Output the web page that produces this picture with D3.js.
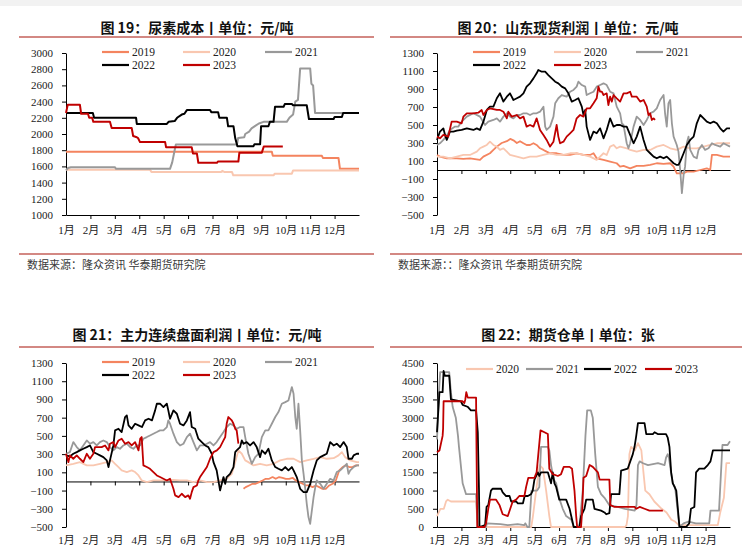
<!DOCTYPE html>
<html><head><meta charset="utf-8">
<script src="https://cdn.jsdelivr.net/npm/d3@7"></script>
<style>
html,body{margin:0;padding:0;background:#fff;}
svg{display:block;}
</style></head>
<body>
<svg id="c" width="742" height="549"></svg>
<script>
// ---------- DATA ----------
const months = ["1月","2月","3月","4月","5月","6月","7月","8月","9月","10月","11月","12月"];
const monthTicks = [0,1,2,3,4,5,6,7,8,9,10,11];
const years5 = ["2019","2020","2021","2022","2023"];
const years4 = ["2020","2021","2022","2023"];
const ticksCost = [1000,1200,1400,1600,1800,2000,2200,2400,2600,2800,3000];
const ticksProfit = [-500,-300,-100,100,300,500,700,900,1100,1300];
const ticksWarrant = [0,500,1000,1500,2000,2500,3000,3500,4000,4500];

// Fig 19 urea cost  [month, value]
const cost2019 = [[0,1780],[8.43,1780],[8.47,1730],[10.48,1730],[10.52,1705],[11.16,1705],[11.22,1570],[12,1570]];
const cost2020 = [[0,1560],[3.44,1560],[3.5,1530],[6.35,1530],[6.4,1545],[6.5,1530],[6.8,1530],[6.85,1490],[8.5,1490],[8.55,1510],[9.25,1510],[9.3,1550],[12,1550]];
const cost2021 = [[0,1550],[0.08,1580],[0.2,1590],[2.0,1590],[2.05,1570],[4.26,1570],[4.35,1650],[4.45,1800],[4.5,1870],[7.0,1870],[7.05,1950],[7.3,1960],[7.34,2000],[7.5,2030],[7.6,2070],[7.75,2100],[7.9,2130],[8.09,2150],[9.04,2150],[9.15,2200],[9.3,2240],[9.39,2400],[9.5,2420],[9.59,2810],[10.0,2810],[10.05,2620],[10.12,2600],[10.2,2260],[11.9,2260]];
const cost2022 = [[0,2260],[1.1,2260],[1.15,2200],[2.87,2200],[2.9,2125],[4.13,2125],[4.2,2150],[4.45,2160],[4.55,2200],[4.74,2240],[4.85,2250],[4.95,2295],[5.9,2295],[5.95,2270],[6.23,2270],[6.28,2200],[6.59,2200],[6.64,2095],[6.86,2095],[6.93,1950],[7.02,1850],[7.68,1850],[7.72,1875],[7.95,1875],[7.99,2095],[8.29,2095],[8.35,2150],[8.5,2150],[8.56,2335],[8.91,2335],[8.96,2370],[9.25,2370],[9.3,2355],[9.86,2355],[9.95,2185],[10.96,2185],[11.0,2210],[11.3,2210],[11.35,2260],[12,2260]];
const cost2023 = [[0,2260],[0.07,2360],[0.57,2360],[0.62,2250],[0.9,2250],[0.95,2200],[1.07,2200],[1.12,2150],[1.8,2150],[1.87,2075],[2.69,2075],[2.75,1975],[2.9,1960],[2.95,1950],[3.03,1900],[4.06,1900],[4.1,1835],[5.15,1835],[5.2,1760],[5.36,1760],[5.42,1645],[6.18,1645],[6.22,1660],[7.06,1660],[7.1,1770],[8.02,1770],[8.1,1845],[8.88,1845]];

// Fig 20 Shandong spot profit
const spot2019 = [[0,167],[0.12,149],[0.40,130],[0.81,130],[1.08,123],[1.35,130],[1.76,112],[1.90,149],[2.17,186],[2.31,223],[2.45,260],[2.65,300],[2.86,320],[3.0,345],[3.13,330],[3.27,300],[3.40,320],[3.54,297],[3.67,278],[3.81,278],[3.95,297],[4.08,278],[4.22,241],[4.36,223],[4.49,204],[4.63,186],[4.90,186],[5.18,167],[5.45,167],[5.72,186],[6.00,167],[6.27,167],[6.41,186],[6.54,130],[6.82,112],[7.09,93],[7.36,75],[7.50,37],[7.64,45],[7.91,19],[8.18,45],[8.46,45],[8.73,56],[9.00,75],[9.28,67],[9.55,75],[9.69,37],[9.82,-37],[10.10,-37],[10.23,-18],[10.51,-18],[10.78,0],[11.05,19],[11.19,0],[11.26,167],[11.46,167],[11.73,149],[12.0,149]];
const spot2020 = [[0,149],[0.26,149],[0.53,130],[0.81,149],[1.08,167],[1.35,167],[1.63,204],[1.76,241],[1.90,260],[2.04,278],[2.17,315],[2.31,278],[2.45,260],[2.58,223],[2.72,241],[2.86,204],[2.99,167],[3.27,149],[3.54,130],[3.81,149],[4.08,149],[4.36,167],[4.63,186],[4.90,167],[5.18,167],[5.45,186],[5.72,186],[6.00,167],[6.27,149],[6.54,112],[6.68,149],[6.82,186],[6.95,167],[7.09,260],[7.23,278],[7.36,241],[7.50,260],[7.77,241],[7.91,223],[8.18,204],[8.46,223],[8.73,223],[9.00,260],[9.28,278],[9.55,241],[9.82,223],[10.10,260],[10.37,241],[10.64,241],[10.92,260],[11.19,278],[11.46,297],[11.73,297],[12.0,297]];
const spot2021 = [[0,278],[0.12,297],[0.26,334],[0.46,408],[0.53,445],[0.74,482],[0.87,482],[1.01,537],[1.22,593],[1.49,630],[1.76,593],[1.97,500],[2.10,537],[2.31,556],[2.45,574],[2.58,537],[2.72,593],[2.86,630],[2.99,593],[3.13,574],[3.27,611],[3.40,611],[3.54,630],[3.67,630],[3.81,611],[3.95,630],[4.08,630],[4.22,648],[4.36,704],[4.43,482],[4.49,445],[4.63,482],[4.77,593],[4.84,741],[4.97,797],[5.11,833],[5.31,815],[5.45,870],[5.59,889],[5.72,926],[5.79,981],[5.93,944],[6.07,926],[6.13,833],[6.27,852],[6.41,870],[6.54,926],[6.68,944],[6.82,963],[6.95,944],[7.09,870],[7.23,852],[7.36,704],[7.50,630],[7.57,519],[7.64,500],[7.77,297],[7.84,241],[7.91,297],[8.05,482],[8.18,593],[8.32,556],[8.46,500],[8.59,556],[8.73,630],[8.87,648],[9.00,685],[9.14,778],[9.28,833],[9.34,630],[9.41,482],[9.48,741],[9.55,778],[9.62,519],[9.69,371],[9.82,278],[9.89,204],[9.96,0],[10.03,-258],[10.10,-55],[10.16,37],[10.23,297],[10.30,371],[10.37,223],[10.51,149],[10.64,130],[10.71,223],[10.85,278],[10.98,223],[11.12,241],[11.26,297],[11.39,278],[11.60,260],[11.73,297],[11.87,278],[12.0,260]];
const spot2022 = [[0,334],[0.12,427],[0.26,463],[0.33,390],[0.40,334],[0.53,427],[0.67,427],[0.81,438],[1.01,445],[1.22,463],[1.49,445],[1.63,463],[1.76,445],[1.90,537],[2.04,667],[2.17,704],[2.31,704],[2.45,797],[2.58,852],[2.72,760],[2.86,815],[2.99,852],[3.13,778],[3.27,797],[3.40,815],[3.54,852],[3.67,926],[3.81,963],[3.95,1018],[4.08,1074],[4.15,1111],[4.29,1092],[4.43,1092],[4.56,1055],[4.70,1018],[4.84,981],[4.97,963],[5.11,926],[5.25,907],[5.38,852],[5.52,760],[5.66,778],[5.79,797],[5.93,704],[6.00,611],[6.07,667],[6.13,482],[6.27,334],[6.41,427],[6.54,408],[6.68,463],[6.82,352],[6.95,445],[7.09,574],[7.23,482],[7.36,500],[7.50,500],[7.64,482],[7.77,482],[7.91,390],[8.05,297],[8.18,371],[8.32,482],[8.46,334],[8.59,223],[8.73,186],[8.87,149],[9.00,130],[9.14,149],[9.28,130],[9.41,149],[9.55,112],[9.69,75],[9.82,56],[9.89,56],[9.96,93],[10.10,186],[10.23,278],[10.37,334],[10.51,371],[10.64,519],[10.78,611],[10.92,574],[11.05,537],[11.19,519],[11.33,537],[11.46,519],[11.60,463],[11.73,427],[11.87,463],[12.0,463]];
const spot2023 = [[0,371],[0.12,352],[0.26,390],[0.46,371],[0.60,537],[0.81,537],[1.01,519],[1.08,593],[1.22,630],[1.49,630],[1.69,637],[1.83,667],[1.90,611],[2.04,667],[2.17,685],[2.45,667],[2.58,667],[2.72,648],[2.86,574],[2.92,648],[3.06,593],[3.27,611],[3.40,574],[3.54,593],[3.67,482],[3.81,500],[3.95,482],[4.08,574],[4.22,445],[4.36,390],[4.49,334],[4.63,260],[4.77,315],[4.90,500],[4.97,371],[5.04,297],[5.18,315],[5.31,371],[5.45,408],[5.59,445],[5.72,574],[5.86,611],[6.00,593],[6.13,685],[6.27,685],[6.41,741],[6.54,797],[6.61,926],[6.68,870],[6.75,870],[6.82,833],[6.95,852],[7.02,722],[7.09,815],[7.16,760],[7.23,833],[7.36,797],[7.50,760],[7.64,852],[7.77,852],[7.91,870],[7.98,815],[8.18,815],[8.32,760],[8.46,778],[8.59,704],[8.66,611],[8.73,630],[8.80,556],[8.87,574],[8.93,556]];

// Fig 21 main continuous futures profit
const fut2019 = [[7.27,-81],[7.36,-62],[7.50,-44],[7.64,-26],[7.77,-26],[7.91,-7],[8.05,11],[8.18,29],[8.32,29],[8.46,48],[8.59,29],[8.73,48],[8.87,40],[9.00,29],[9.14,29],[9.28,40],[9.41,11],[9.55,-7],[9.69,-26],[9.82,-44],[9.96,-44],[10.10,-62],[10.23,-44],[10.37,-62],[10.51,-81],[10.64,-81],[10.78,-44],[10.92,-26],[11.05,11],[11.19,121],[11.33,158],[11.46,176],[11.60,158],[11.73,158],[11.87,176],[12.0,176]];
const fut2020 = [[0,176],[0.30,194],[0.57,212],[0.85,176],[1.12,176],[1.39,194],[1.67,212],[1.87,231],[2.01,194],[2.15,158],[2.28,121],[2.49,103],[2.69,121],[2.83,103],[2.97,66],[3.10,11],[3.31,-7],[3.58,11],[3.85,11],[4.13,11],[4.40,18],[4.67,11],[4.95,11],[5.22,-7],[5.49,11],[5.77,-7],[6.04,-7],[6.31,11],[6.58,29],[6.79,84],[6.93,212],[7.06,341],[7.20,304],[7.34,231],[7.47,212],[7.68,176],[7.95,194],[8.22,176],[8.50,194],[8.77,231],[9.04,249],[9.32,249],[9.59,212],[9.86,231],[10.14,249],[10.41,267],[10.68,249],[10.96,255],[11.16,286],[11.30,322],[11.43,267],[11.64,231],[11.91,212],[12.0,212]];
const fut2021 = [[0,304],[0.16,322],[0.30,432],[0.44,377],[0.57,341],[0.71,395],[0.85,450],[0.98,414],[1.12,432],[1.26,395],[1.39,432],[1.53,450],[1.67,432],[1.80,377],[1.94,341],[2.08,377],[2.21,359],[2.35,395],[2.49,414],[2.63,377],[2.76,359],[2.90,395],[3.04,395],[3.17,469],[3.31,487],[3.44,505],[3.58,524],[3.72,542],[3.85,560],[3.99,560],[4.13,597],[4.19,670],[4.26,633],[4.40,524],[4.54,432],[4.67,395],[4.81,414],[4.95,487],[5.08,524],[5.22,432],[5.36,341],[5.49,395],[5.63,395],[5.77,414],[5.90,432],[6.04,395],[6.17,432],[6.31,487],[6.45,542],[6.58,597],[6.72,633],[6.86,615],[6.99,578],[7.13,597],[7.27,597],[7.34,487],[7.47,304],[7.61,194],[7.75,267],[7.88,304],[8.02,487],[8.16,560],[8.29,560],[8.43,633],[8.57,707],[8.70,761],[8.84,853],[8.98,871],[9.11,889],[9.18,963],[9.25,1036],[9.32,963],[9.39,707],[9.45,578],[9.52,853],[9.59,560],[9.66,231],[9.73,84],[9.79,-62],[9.86,-245],[9.93,-391],[10.0,-465],[10.07,-318],[10.14,-172],[10.21,-62],[10.27,11],[10.41,-26],[10.55,-81],[10.68,-26],[10.82,29],[10.96,11],[11.09,103],[11.23,121],[11.37,158],[11.50,194],[11.57,84],[11.64,121],[11.78,158],[11.91,176],[12.0,176]];
const fut2022 = [[0,286],[0.16,275],[0.30,304],[0.44,322],[0.57,341],[0.71,359],[0.85,377],[0.98,395],[1.12,322],[1.26,304],[1.39,286],[1.53,267],[1.67,231],[1.74,158],[1.80,231],[1.94,395],[2.01,560],[2.15,578],[2.28,541],[2.42,707],[2.49,725],[2.56,615],[2.69,578],[2.83,633],[2.97,615],[3.11,597],[3.24,670],[3.38,688],[3.52,670],[3.65,780],[3.72,853],[3.85,853],[3.99,816],[4.13,853],[4.19,780],[4.26,688],[4.40,780],[4.54,743],[4.67,633],[4.81,615],[4.95,670],[5.08,761],[5.15,597],[5.29,578],[5.42,469],[5.56,432],[5.70,395],[5.83,377],[5.97,304],[6.04,212],[6.17,121],[6.24,11],[6.31,-99],[6.45,48],[6.52,-26],[6.58,48],[6.72,84],[6.86,158],[6.93,322],[6.99,341],[7.13,377],[7.20,450],[7.27,414],[7.40,432],[7.54,395],[7.68,432],[7.81,377],[7.95,267],[8.02,341],[8.16,304],[8.29,359],[8.43,231],[8.57,158],[8.70,139],[8.84,121],[8.98,158],[9.11,121],[9.25,158],[9.32,121],[9.45,48],[9.59,-81],[9.73,-117],[9.86,-117],[10.0,-26],[10.14,121],[10.27,231],[10.41,267],[10.55,286],[10.68,304],[10.82,432],[10.96,395],[11.09,414],[11.23,377],[11.37,432],[11.50,377],[11.57,249],[11.71,249],[11.78,286],[11.91,304],[12.0,304]];
const fut2023 = [[0,304],[0.10,212],[0.16,286],[0.30,249],[0.44,286],[0.57,249],[0.71,212],[0.85,304],[0.98,249],[1.12,304],[1.19,377],[1.33,377],[1.46,377],[1.60,395],[1.74,341],[1.80,414],[1.94,432],[2.01,377],[2.15,450],[2.28,469],[2.42,414],[2.56,432],[2.69,395],[2.83,432],[2.97,341],[3.04,469],[3.10,487],[3.17,176],[3.31,158],[3.44,139],[3.58,103],[3.72,66],[3.85,48],[3.99,29],[4.13,11],[4.26,29],[4.40,-81],[4.47,-153],[4.61,-172],[4.74,-135],[4.88,-172],[5.01,-153],[5.08,-190],[5.15,-117],[5.22,-62],[5.36,-44],[5.42,11],[5.49,48],[5.63,103],[5.77,158],[5.90,249],[6.04,322],[6.18,341],[6.31,377],[6.45,450],[6.52,487],[6.58,633],[6.65,707],[6.79,670],[6.86,633],[6.93,578],[6.99,560],[7.06,414]];

// Fig 22 futures warehouse receipts
const wr2020 = [[0,300],[0.14,500],[0.28,500],[0.37,700],[0.44,750],[0.57,700],[1.6,700],[1.67,0],[3.86,0],[3.93,300],[4.06,1000],[4.2,1700],[4.34,1600],[4.47,1000],[4.6,300],[4.67,0],[7.7,0],[7.76,50],[7.82,300],[7.88,2000],[7.95,2200],[8.1,2100],[8.23,2300],[8.37,2100],[8.44,1600],[8.53,1000],[8.7,900],[8.9,700],[9.2,500],[9.4,400],[9.6,200],[9.75,150],[9.9,50],[11.5,50],[11.6,400],[11.75,800],[11.85,1750],[12,1750]];
const wr2021 = [[0,2400],[0.08,3700],[0.13,4250],[0.5,4250],[0.57,3700],[0.64,3300],[0.77,3000],[0.86,2500],[0.9,2200],[1.05,1200],[1.19,900],[1.6,900],[1.67,0],[2.0,0],[2.05,100],[2.6,80],[2.9,50],[3.3,80],[3.57,50],[3.62,100],[3.7,0],[3.78,0],[3.87,1000],[4.1,1000],[4.19,1100],[4.26,2200],[4.54,2200],[4.6,2100],[4.67,1700],[4.78,1300],[4.88,1200],[5.0,800],[5.15,500],[5.29,300],[5.5,200],[5.6,0],[5.83,0],[5.9,500],[5.97,1000],[6.08,2500],[6.15,3200],[6.3,3200],[6.38,3000],[6.48,2000],[6.59,1100],[6.72,900],[6.86,800],[7.06,600],[7.4,550],[7.7,500],[8.1,450],[8.17,600],[8.23,1700],[8.3,1800],[8.44,1750],[8.64,1700],[9.05,1750],[9.32,1700],[9.38,1900],[9.45,2000],[9.5,1900],[9.65,1200],[9.75,1100],[9.93,0],[10.1,100],[10.3,150],[10.6,100],[11.15,100],[11.2,450],[11.55,450],[11.69,2250],[11.9,2250],[12,2350]];
const wr2022 = [[0,2600],[0.1,3700],[0.23,3700],[0.27,4280],[0.32,4150],[0.50,4150],[0.57,3500],[0.98,3450],[1.05,3350],[1.25,3300],[1.39,3200],[1.60,3200],[1.67,2600],[1.72,1000],[1.74,0],[1.97,50],[2.03,550],[2.10,600],[2.21,1000],[2.28,1050],[2.62,1050],[2.69,950],[2.83,850],[2.97,850],[3.04,700],[3.24,700],[3.31,650],[3.52,650],[3.59,850],[3.72,850],[3.85,900],[3.92,1000],[3.99,1300],[4.13,1500],[4.19,1400],[4.26,1500],[4.54,1500],[4.67,1200],[4.74,1500],[4.81,1200],[4.88,1100],[5.01,750],[5.29,750],[5.43,500],[5.60,0],[5.83,0],[5.90,300],[6.04,500],[6.11,750],[6.38,750],[6.45,500],[6.72,450],[6.86,400],[6.93,350],[7.06,380],[7.13,900],[7.47,900],[7.54,1550],[7.81,1600],[8.02,2000],[8.09,2200],[8.16,2500],[8.23,2850],[8.50,2850],[8.57,2550],[8.84,2550],[8.91,2600],[9.04,2550],[9.38,2550],[9.45,2450],[9.52,2200],[9.59,1500],[9.66,1200],[9.80,1000],[9.93,0],[10.2,0],[10.33,100],[10.40,500],[10.54,550],[10.61,1500],[10.74,1600],[10.95,1600],[11.09,1700],[11.2,1800],[11.3,2100],[12,2100]];
const wr2023 = [[0,2050],[0.1,2100],[0.23,2500],[0.25,2700],[0.27,3450],[1.05,3450],[1.12,3400],[1.16,3500],[1.2,3700],[1.26,3550],[1.6,3550],[1.62,2000],[1.65,0],[1.95,0],[2.01,100],[2.1,500],[2.17,750],[2.42,750],[2.56,600],[2.69,350],[2.9,300],[3.0,500],[3.1,700],[3.24,750],[3.37,850],[3.58,850],[3.65,1100],[3.74,1350],[3.99,1350],[4.08,1500],[4.24,2650],[4.40,2600],[4.54,2550],[4.6,1600],[4.74,1450],[4.95,1400],[5.08,1450],[5.19,1650],[5.43,1650],[5.53,1600],[5.63,1000],[5.70,300],[5.74,0],[5.90,0],[5.95,500],[6.0,1350],[6.11,1400],[6.25,1700],[6.38,1650],[6.59,1500],[6.66,1300],[7.06,1300],[7.1,600],[7.27,550],[8.1,550],[8.16,500],[8.3,550],[8.5,500],[8.7,450],[9.25,450]];

// ---------- STYLE / LAYOUT ----------
const colorOf = {"2019":"#F4845F","2020":"#F9C7B0","2021":"#999999","2022":"#000000","2023":"#C00000"};
const RULE = "#C5605A";
const NUMFONT = "'Liberation Serif','Times New Roman',serif";
const CJKFONT = "'Noto Sans CJK SC','Noto Sans',sans-serif";

const svg = d3.select("#c");
// faint top band
svg.append("rect").attr("x",0).attr("y",0).attr("width",742).attr("height",6).attr("fill","#f2f2f2");

const legend5 = [[102,52],[183,52],[265,52],[102,65],[183,65]];
const legend4 = [[95,59],[155,59],[213,59],[274,59]];

const panels = [
  {ox:0, oy:0, title:"图 19：尿素成本丨单位：元/吨", titleY:33, ruleY:37, bottomRule:254,
   source:"数据来源：隆众资讯 华泰期货研究院",
   x:[66,359], y:[215,53], dom:[1000,3000], ticks:ticksCost, zero:false, labY:215, labPad:11,
   years:years5, series:[cost2019,cost2020,cost2021,cost2022,cost2023], legend:legend5, sw:2},
  {ox:371, oy:0, title:"图 20：山东现货利润丨单位：元/吨", titleY:33, ruleY:37, bottomRule:254,
   source:"数据来源：：隆众资讯  华泰期货研究院",
   x:[437,730], y:[215,53], dom:[-500,1300], ticks:ticksProfit, zero:true, labY:215, labPad:11,
   years:years5, series:[spot2019,spot2020,spot2021,spot2022,spot2023], legend:legend5, sw:1.8},
  {ox:0, oy:310, title:"图 21：主力连续盘面利润丨单位：元/吨", titleY:340, ruleY:347, bottomRule:null,
   source:null,
   x:[66,359], y:[527,363], dom:[-500,1300], ticks:ticksProfit, zero:true, labY:527, labPad:9,
   years:years5, series:[fut2019,fut2020,fut2021,fut2022,fut2023], legend:legend5, sw:1.8},
  {ox:371, oy:310, title:"图 22：期货仓单丨单位：张", titleY:340, ruleY:347, bottomRule:null,
   source:null,
   x:[437,730], y:[527,363], dom:[0,4500], ticks:ticksWarrant, zero:false, labY:527, labPad:9,
   years:years4, series:[wr2020,wr2021,wr2022,wr2023], legend:legend4, sw:1.8}
];

panels.forEach(p => {
  const g = svg.append("g");
  const ruleX = p.ox === 0 ? [19,374] : [390,742];
  const cx = p.ox === 0 ? 197 : 568;
  g.append("text").attr("x",cx).attr("y",p.titleY).attr("text-anchor","middle")
    .attr("font-family",CJKFONT).attr("font-weight",700).attr("font-size",14).attr("fill","#111")
    .text(p.title);
  g.append("line").attr("x1",ruleX[0]).attr("x2",ruleX[1]).attr("y1",p.ruleY).attr("y2",p.ruleY)
    .attr("stroke",RULE).attr("stroke-width",1.6);
  if (p.bottomRule) {
    g.append("line").attr("x1",ruleX[0]).attr("x2",ruleX[1]).attr("y1",p.bottomRule).attr("y2",p.bottomRule)
      .attr("stroke",RULE).attr("stroke-width",1.6);
  }
  if (p.source) {
    g.append("text").attr("x",p.ox+27).attr("y",269).attr("font-family",CJKFONT)
      .attr("font-size",11).attr("fill","#3a3a3a").text(p.source);
  }

  const x = d3.scaleLinear().domain([0,12]).range(p.x);
  const y = d3.scaleLinear().domain(p.dom).range(p.y);

  // y axis
  const ya = g.append("g").attr("transform",`translate(${p.x[0]},0)`)
    .call(d3.axisLeft(y).tickValues(p.ticks).tickFormat(d3.format("d")).tickSize(4).tickPadding(9).tickSizeOuter(0));
  ya.selectAll("text").attr("font-family",NUMFONT).attr("font-size",11).attr("fill","#1a1a1a");
  ya.selectAll("line,path").attr("stroke","#000");

  // x axis line with ticks (at zero for profit panels)
  const axisY = p.zero ? y(0) : p.labY;
  const xa = g.append("g").attr("transform",`translate(0,${axisY})`)
    .call(d3.axisBottom(x).tickValues(monthTicks.concat([12])).tickFormat("").tickSize(4).tickSizeOuter(0));
  xa.selectAll("line,path").attr("stroke","#000");
  xa.selectAll(".tick").filter(d => d === 0 || d === 12).remove();

  // month labels
  const xl = g.append("g").attr("transform",`translate(0,${p.labY})`)
    .call(d3.axisBottom(x).tickValues(monthTicks).tickFormat(i => months[i]).tickSize(0).tickPadding(p.labPad));
  xl.select(".domain").remove();
  xl.selectAll("text").attr("font-family",NUMFONT+",'Noto Sans CJK SC'").attr("font-size",11).attr("fill","#1a1a1a");

  // series
  const line = d3.line().x(d => x(d[0])).y(d => y(d[1]));
  p.series.forEach((s,i) => {
    g.append("path").datum(s).attr("d",line).attr("fill","none")
      .attr("stroke",colorOf[p.years[i]]).attr("stroke-width",p.sw)
      .attr("stroke-linejoin","round");
  });

  // legend
  p.years.forEach((yr,i) => {
    const lx = p.ox + p.legend[i][0], ly = p.oy + p.legend[i][1];
    g.append("line").attr("x1",lx).attr("x2",lx+27).attr("y1",ly).attr("y2",ly)
      .attr("stroke",colorOf[yr]).attr("stroke-width",2.2);
    g.append("text").attr("x",lx+30).attr("y",ly+4).attr("font-family",NUMFONT)
      .attr("font-size",11.5).attr("fill","#222").text(yr);
  });
});
</script>
</body></html>
